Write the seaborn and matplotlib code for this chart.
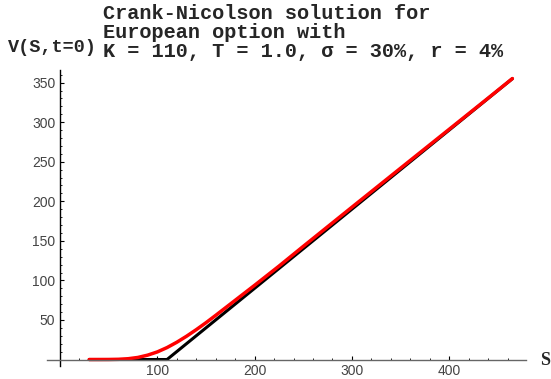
import matplotlib
matplotlib.use("Agg")
import matplotlib.pyplot as plt
import seaborn as sns
import pandas as pd
from matplotlib.ticker import MultipleLocator, FixedLocator

# Data
payoff_S = [30, 110, 465]
payoff_V = [0, 0, 355]

cn_S = [30, 40, 50, 60, 70, 80, 90, 100, 110, 120, 130, 140, 150, 160, 180,
        200, 225, 250, 300, 350, 400, 440, 465]
cn_V = [0.0, 0.01, 0.05, 0.27, 1.0, 2.6, 5.5, 9.6, 15.1, 21.8, 29.4, 37.7,
        46.5, 55.8, 74.8, 93.8, 118.0, 143.0, 192.5, 241.8, 291.0, 330.4, 355.2]

x_ticks = [100, 200, 300, 400]
y_ticks = [50, 100, 150, 200, 250, 300, 350]

title_lines = ["Crank-Nicolson solution for",
               "European option with",
               "K = 110, T = 1.0, σ = 30%, r = 4%"]

sns.set_style("white")
plt.rcParams['font.family'] = ['DejaVu Sans']

W, H = 551, 379
fig = plt.figure(figsize=(W / 100, H / 100), dpi=100)
ax = fig.add_axes([47 / W, 1 - 366 / H, 479 / W, 296 / H])

df_pay = pd.DataFrame({"S": payoff_S, "V": payoff_V})
df_cn = pd.DataFrame({"S": cn_S, "V": cn_V})
sns.lineplot(data=df_pay, x="S", y="V", ax=ax, color="black", linewidth=2.2,
             estimator=None, sort=False)
sns.lineplot(data=df_cn, x="S", y="V", ax=ax, color="#ff0000", linewidth=2.5,
             estimator=None, sort=False)

ax.set_xlim(-13.4, 479)
ax.set_ylim(-8.2, 366)
ax.set_xlabel("")
ax.set_ylabel("")

for s in ["top", "right"]:
    ax.spines[s].set_visible(False)
ax.spines["left"].set_position(("data", 0))
ax.spines["bottom"].set_position(("data", 0))
ax.spines["bottom"].set_color("#666666")
ax.spines["left"].set_color("black")
for s in ["left", "bottom"]:
    ax.spines[s].set_linewidth(1.0)

ax.xaxis.set_major_locator(FixedLocator(x_ticks))
ax.xaxis.set_minor_locator(MultipleLocator(20))
ax.yaxis.set_major_locator(FixedLocator(y_ticks))
ax.yaxis.set_minor_locator(MultipleLocator(10))
ax.set_xticklabels([str(v) for v in x_ticks])
ax.set_yticklabels([str(v) for v in y_ticks])

ax.tick_params(axis="both", which="major", direction="in", length=2.6, width=0.8,
               labelsize=10, labelcolor="#444444", color="black")
ax.tick_params(axis="both", which="minor", direction="in", length=1.6, width=0.6,
               color="black")
ax.tick_params(axis="x", pad=3.2)
ax.tick_params(axis="y", pad=3.5)
for lab in ax.get_xticklabels() + ax.get_yticklabels():
    lab.set_family(["Liberation Sans", "DejaVu Sans"])
ax.xaxis.set_ticks_position("bottom")
ax.yaxis.set_ticks_position("left")

mono = ["Liberation Mono", "DejaVu Sans Mono"]
baselines = [19, 38, 57]
for line, b in zip(title_lines, baselines):
    fig.text(103 / W, 1 - b / H, line, family=mono, weight="bold",
             fontsize=14.6, va="baseline", ha="left")
fig.text(8 / W, 1 - 52 / H, "V(S,t=0)", family=mono, weight="bold",
         fontsize=13.3, va="baseline", ha="left")
fig.text(540 / W, 1 - 365 / H, "S", family=["Liberation Serif", "DejaVu Serif"],
         weight="bold", fontsize=13, va="baseline", ha="left")

fig.savefig("out.png", dpi=100)
